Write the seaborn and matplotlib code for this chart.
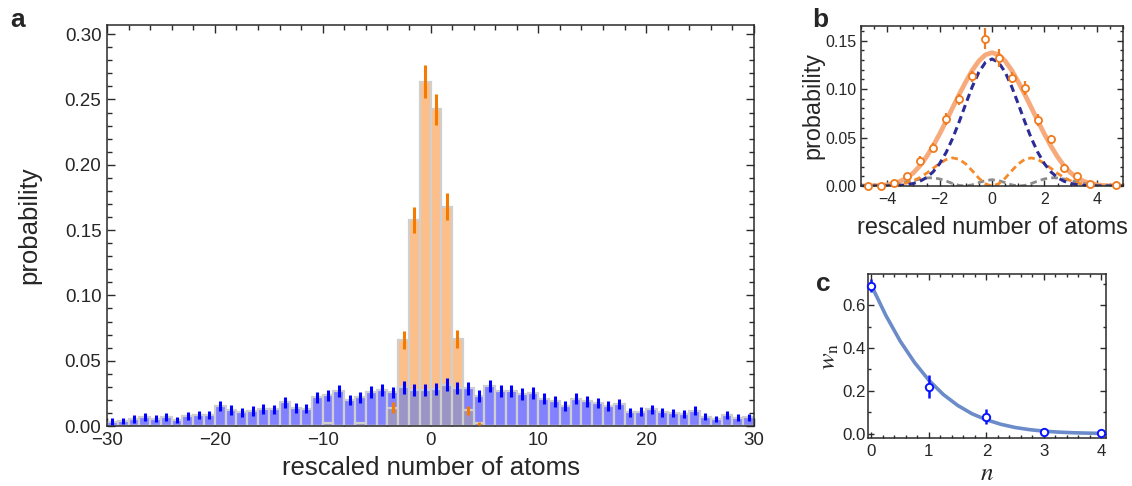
import numpy as np
import pandas as pd
import matplotlib
matplotlib.use("Agg")
import matplotlib.pyplot as plt
from matplotlib.ticker import MultipleLocator, FormatStrFormatter
import seaborn as sns

# ---------------- data ----------------
# panel a : histogram of rescaled atom number (bin width 1)
blue_centers = np.arange(-29.5, 30, 1.0)
blue_vals = [0.0033, 0.0040, 0.0053, 0.0070, 0.0056, 0.0069, 0.0046, 0.0076, 0.0084, 0.0084,
             0.0155, 0.0122, 0.0104, 0.0115, 0.0130, 0.0127, 0.0180, 0.0140, 0.0132, 0.0219,
             0.0234, 0.0270, 0.0198, 0.0219, 0.0260, 0.0275, 0.0257, 0.0295, 0.0275, 0.0275,
             0.0282, 0.0316, 0.0293, 0.0288, 0.0229, 0.0305, 0.0270, 0.0270, 0.0244, 0.0250,
             0.0209, 0.0188, 0.0155, 0.0209, 0.0188, 0.0178, 0.0155, 0.0168, 0.0104, 0.0110,
             0.0127, 0.0104, 0.0097, 0.0092, 0.0117, 0.0071, 0.0053, 0.0084, 0.0064, 0.0066]
blue_errs = [0.0025, 0.0025, 0.0028, 0.0030, 0.0028, 0.0030, 0.0025, 0.0030, 0.0032, 0.0032,
             0.0038, 0.0035, 0.0033, 0.0035, 0.0036, 0.0036, 0.0040, 0.0037, 0.0036, 0.0042,
             0.0043, 0.0046, 0.0041, 0.0042, 0.0045, 0.0046, 0.0045, 0.0047, 0.0046, 0.0046,
             0.0046, 0.0048, 0.0047, 0.0047, 0.0043, 0.0047, 0.0046, 0.0046, 0.0044, 0.0045,
             0.0042, 0.0040, 0.0037, 0.0042, 0.0040, 0.0039, 0.0037, 0.0038, 0.0032, 0.0033,
             0.0035, 0.0032, 0.0031, 0.0030, 0.0034, 0.0028, 0.0026, 0.0030, 0.0027, 0.0028]

orange_centers = [-9.5, -6.5, -3.5, -2.5, -1.5, -0.5, 0.5, 1.5, 2.5, 3.5, 4.5]
orange_vals = [0.0020, 0.0020, 0.0140, 0.0656, 0.1580, 0.2636, 0.2425, 0.1680, 0.0664, 0.0120, 0.0020]
orange_errs = [0.0, 0.0, 0.0040, 0.0070, 0.0100, 0.0125, 0.0117, 0.0100, 0.0070, 0.0035, 0.0013]

# panel b : zoomed distribution (bin width 0.5) and fitted components
xb = [-4.75, -4.25, -3.75, -3.25, -2.75, -2.25, -1.75, -1.25, -0.75, -0.25,
      0.25, 0.75, 1.25, 1.75, 2.25, 2.75, 3.25, 3.75, 4.75]
pb = [0.0005, 0.0005, 0.0034, 0.0100, 0.0262, 0.0395, 0.0690, 0.0893, 0.1130, 0.1520,
      0.1320, 0.1116, 0.1010, 0.0680, 0.0480, 0.0189, 0.0100, 0.0024, 0.0007]
pb_err = [0.0005, 0.0005, 0.0015, 0.0020, 0.0043, 0.0045, 0.0060, 0.0060, 0.0060, 0.0108,
          0.0090, 0.0058, 0.0068, 0.0060, 0.0050, 0.0035, 0.0022, 0.0012, 0.0005]

xfit = np.arange(-5.0, 5.01, 0.25)
fit_total = [0.0000, 0.0001, 0.0003, 0.0006, 0.0013, 0.0027, 0.0049, 0.0084, 0.0136, 0.0208,
             0.0301, 0.0412, 0.0536, 0.0670, 0.0809, 0.0945, 0.1075, 0.1194, 0.1290, 0.1353,
             0.1375,
             0.1353, 0.1290, 0.1194, 0.1075, 0.0945, 0.0809, 0.0670, 0.0536, 0.0412, 0.0301,
             0.0208, 0.0136, 0.0084, 0.0049, 0.0027, 0.0013, 0.0006, 0.0003, 0.0001, 0.0000]
fit_n0 = [0.0000, 0.0000, 0.0000, 0.0000, 0.0001, 0.0003, 0.0006, 0.0013, 0.0026, 0.0049,
          0.0087, 0.0145, 0.0230, 0.0346, 0.0493, 0.0664, 0.0848, 0.1026, 0.1175, 0.1275,
          0.1310,
          0.1275, 0.1175, 0.1026, 0.0848, 0.0664, 0.0493, 0.0346, 0.0230, 0.0145, 0.0087,
          0.0049, 0.0026, 0.0013, 0.0006, 0.0003, 0.0001, 0.0000, 0.0000, 0.0000, 0.0000]
fit_n1 = [0.0000, 0.0000, 0.0001, 0.0002, 0.0004, 0.0009, 0.0017, 0.0031, 0.0054, 0.0087,
          0.0131, 0.0182, 0.0233, 0.0273, 0.0290, 0.0275, 0.0227, 0.0156, 0.0080, 0.0022,
          0.0000,
          0.0022, 0.0080, 0.0156, 0.0227, 0.0275, 0.0290, 0.0273, 0.0233, 0.0182, 0.0131,
          0.0087, 0.0054, 0.0031, 0.0017, 0.0009, 0.0004, 0.0002, 0.0001, 0.0000, 0.0000]
fit_n2 = [0.0000, 0.0001, 0.0002, 0.0004, 0.0008, 0.0015, 0.0026, 0.0040, 0.0056, 0.0072,
          0.0083, 0.0085, 0.0073, 0.0051, 0.0026, 0.0006, 0.0000, 0.0012, 0.0035, 0.0056,
          0.0065,
          0.0056, 0.0035, 0.0012, 0.0000, 0.0006, 0.0026, 0.0051, 0.0073, 0.0085, 0.0083,
          0.0072, 0.0056, 0.0040, 0.0026, 0.0015, 0.0008, 0.0004, 0.0002, 0.0001, 0.0000]

# panel c : weights w_n
n_vals = [0, 1, 2, 3, 4]
w_vals = [0.690, 0.220, 0.080, 0.010, 0.002]
w_errs = [0.030, 0.052, 0.035, 0.005, 0.004]
n_fit = np.arange(0, 4.01, 0.25)
w_fit = [0.691, 0.552, 0.432, 0.332, 0.249, 0.183, 0.132, 0.093, 0.065,
         0.044, 0.029, 0.019, 0.012, 0.0075, 0.0046, 0.0028, 0.0016]

# ---------------- style ----------------
sns.set_theme(style="ticks")
plt.rcParams["font.family"] = ["Liberation Sans", "DejaVu Sans"]
plt.rcParams["mathtext.fontset"] = "stix"
plt.rcParams["axes.linewidth"] = 1.1
plt.rcParams["axes.edgecolor"] = "#2a2a2a"

W, H = 1132, 486
fig = plt.figure(figsize=(W / 100, H / 100), dpi=100)


def px_axes(l, r, t, b):
    return fig.add_axes([l / W, 1 - b / H, (r - l) / W, (b - t) / H])


def style_ticks(ax, size, maj=5, mnr=3, ypad=4, xpad=4):
    ax.tick_params(which="both", direction="in", top=True, right=True,
                   color="#2a2a2a", width=1.0, labelsize=size)
    ax.tick_params(axis="y", which="both", pad=ypad)
    ax.tick_params(axis="x", which="both", pad=xpad)
    ax.tick_params(which="major", length=maj)
    ax.tick_params(which="minor", length=mnr)


edges = [float(e) for e in range(-30, 31)]
C_BLUE = "#8282ff"
C_ORANGE = "#fdbf8a"
C_OVER = "#9b94c6"
C_EDGE = "#cfcfcf"

# ---------------- panel a ----------------
axa = px_axes(107, 754, 25, 426)
blue_map = dict(zip(blue_centers.tolist(), blue_vals))
overlap_vals = [min(v, blue_map[c]) for c, v in zip(orange_centers, orange_vals)]

df_orange = pd.DataFrame({"x": orange_centers, "w": orange_vals})
df_blue = pd.DataFrame({"x": blue_centers, "w": blue_vals})
df_over = pd.DataFrame({"x": orange_centers, "w": overlap_vals})

common = dict(x="x", weights="w", bins=edges, stat="count", element="bars", fill=True,
              alpha=1, edgecolor=C_EDGE, linewidth=1.6, ax=axa)
sns.histplot(data=df_orange, color=C_ORANGE, zorder=1, **common)
sns.histplot(data=df_blue, color=C_BLUE, zorder=1.1, **common)
sns.histplot(data=df_over, color=C_OVER, zorder=1.2, **common)

axa.errorbar(blue_centers, blue_vals, yerr=blue_errs, fmt="none", ecolor="#0000ff",
             elinewidth=2.2, capsize=0, zorder=3)
axa.errorbar(orange_centers, orange_vals, yerr=orange_errs, fmt="none", ecolor="#f57a00",
             elinewidth=2.2, capsize=0, zorder=3)

axa.set_xlim(-30, 30)
axa.set_ylim(0, 0.307)
axa.xaxis.set_major_locator(MultipleLocator(10))
axa.xaxis.set_minor_locator(MultipleLocator(2))
axa.yaxis.set_major_locator(MultipleLocator(0.05))
axa.yaxis.set_minor_locator(MultipleLocator(0.01))
axa.yaxis.set_major_formatter(FormatStrFormatter("%.2f"))
style_ticks(axa, 13.5, maj=6, mnr=3.5)
axa.set_xlabel("rescaled number of atoms", fontsize=18.5, labelpad=5)
axa.set_ylabel("probability", fontsize=18.5, labelpad=17)

# ---------------- panel b ----------------
axb = px_axes(861, 1123, 26, 186)
dash = (0, (2.4, 1.5))
sns.lineplot(x=xfit, y=fit_total, ax=axb, color="#f7a26e", linewidth=3.4, alpha=0.9, zorder=2)
sns.lineplot(x=xfit, y=fit_n2, ax=axb, color="#8c8c8c", linewidth=2.0, zorder=2.1, linestyle=dash)
sns.lineplot(x=xfit, y=fit_n1, ax=axb, color="#f58a2a", linewidth=2.0, zorder=2.2, linestyle=dash)
sns.lineplot(x=xfit, y=fit_n0, ax=axb, color="#2c2c96", linewidth=2.2, zorder=2.3, linestyle=dash)
axb.errorbar(xb, pb, yerr=pb_err, fmt="none", ecolor="#f07a1e", elinewidth=1.6,
             capsize=0, zorder=3)
sns.scatterplot(x=xb, y=pb, ax=axb, s=26, facecolor="white", edgecolor="#f07a1e",
                linewidth=1.3, zorder=4, clip_on=False)
axb.set_xlim(-5, 5)
axb.set_ylim(0, 0.165)
axb.xaxis.set_major_locator(MultipleLocator(2))
axb.xaxis.set_minor_locator(MultipleLocator(0.5))
axb.yaxis.set_major_locator(MultipleLocator(0.05))
axb.yaxis.set_minor_locator(MultipleLocator(0.01))
axb.yaxis.set_major_formatter(FormatStrFormatter("%.2f"))
style_ticks(axb, 11.5, maj=4.5, mnr=2.5, ypad=3)
axb.set_xlabel("rescaled number of atoms", fontsize=16.8, labelpad=7)
axb.set_ylabel("probability", fontsize=16.8, labelpad=1)

# ---------------- panel c ----------------
axc = px_axes(868, 1106, 274, 438)
sns.lineplot(x=n_fit, y=w_fit, ax=axc, color="#5b7fc4", linewidth=2.6, alpha=0.9, zorder=2)
axc.errorbar(n_vals, w_vals, yerr=w_errs, fmt="none", ecolor="#0a14ff", elinewidth=1.8,
             capsize=0, zorder=3)
sns.scatterplot(x=n_vals, y=w_vals, ax=axc, s=28, facecolor="white", edgecolor="#0a14ff",
                linewidth=1.4, zorder=4, clip_on=False)
axc.set_xlim(-0.06, 4.08)
axc.set_ylim(-0.02, 0.745)
axc.xaxis.set_major_locator(MultipleLocator(1))
axc.xaxis.set_minor_locator(MultipleLocator(0.2))
axc.yaxis.set_major_locator(MultipleLocator(0.2))
axc.yaxis.set_minor_locator(MultipleLocator(0.1))
axc.yaxis.set_major_formatter(FormatStrFormatter("%.1f"))
style_ticks(axc, 12.2, maj=4.5, mnr=2.5, ypad=1.5, xpad=4)
axc.set_xlabel(r"$n$", fontsize=18, labelpad=2)
axc.set_ylabel(r"$w_{\mathrm{n}}$", fontsize=18, labelpad=1)

# panel letters
fig.text(10 / W, 1 - 27 / H, "a", fontsize=19, fontweight="bold", va="baseline")
fig.text(812 / W, 1 - 27 / H, "b", fontsize=19, fontweight="bold", va="baseline")
fig.text(816 / W, 1 - 291 / H, "c", fontsize=19, fontweight="bold", va="baseline")

fig.savefig("out.png", dpi=100)
